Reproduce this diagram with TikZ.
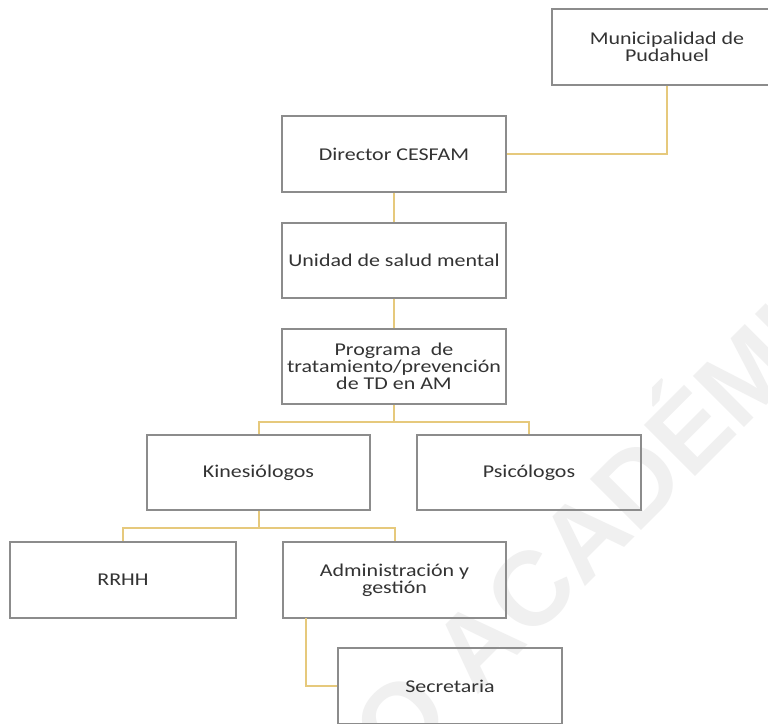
\documentclass[tikz,border=0pt]{standalone}
\usepackage{fontspec}
\setmainfont{Carlito}[FakeStretch=1.22]
\newfontfamily\wmfont{Liberation Sans}
\usetikzlibrary{calc}
\definecolor{boxgray}{HTML}{8C8C8C}
\definecolor{linegold}{HTML}{E6C97C}
\definecolor{txtgray}{HTML}{333333}
\definecolor{wmgray}{HTML}{F0F0F0}
\tikzset{
  box/.style={draw=boxgray, line width=1.1pt, minimum height=76pt, align=center,
    inner sep=0pt, text=txtgray, font=\fontsize{18}{16.7}\selectfont},
  conn/.style={draw=linegold, line width=2pt},
  wmark/.style={rotate=45, anchor=west, text=wmgray, inner sep=0pt,
    font=\wmfont\bfseries\fontsize{105}{105}\selectfont}
}
\begin{document}
\begin{tikzpicture}[x=1pt,y=-1pt]
\path[use as bounding box] (0,0) rectangle (768,723);
\clip (0,0) rectangle (768,723);
\fill[white] (0,0) rectangle (768,723);
% watermark
\node[wmark] (wm) at (365,742) {O ACADÉMICO};
% boxes
\node[box, minimum width=230pt] (muni) at (667,47) {Municipalidad de\\Pudahuel};
\node[box, minimum width=224pt] (dir) at (394,154) {Director CESFAM};
\node[box, minimum width=224pt, minimum height=75pt] (uni) at (394,260.5) {Unidad de salud mental};
\node[box, minimum width=224pt, minimum height=75pt] (prog) at (394,366.5) {Programa\ \ de\\tratamiento/prevención\\de TD en AM};
\node[box, minimum width=223pt, minimum height=75pt] (kine) at (258.5,472.5) {Kinesiólogos};
\node[box, minimum width=224pt, minimum height=75pt] (psi) at (529,472.5) {Psicólogos};
\node[box, minimum width=226pt] (rrhh) at (123,580) {RRHH};
\node[box, minimum width=223pt] (admin) at (394.5,580) {Administración y\\gestión};
\node[box, minimum width=224pt] (secr) at (450,686) {Secretaria};
% connectors
\draw[conn] (muni.south) |- (dir.east);
\draw[conn] (dir.south) -- (uni.north);
\draw[conn] (uni.south) -- (prog.north);
\coordinate (b1) at (394,422);
\draw[conn] (prog.south) -- (b1) -| (kine.north);
\draw[conn] (b1) -| (psi.north);
\coordinate (b2) at (258.5,528);
\draw[conn] (kine.south) -- (b2) -| (rrhh.north);
\draw[conn] (b2) -| (admin.north);
\coordinate (a2) at (306,618);
\draw[conn] (a2) |- (secr.west);
\end{tikzpicture}
\end{document}
